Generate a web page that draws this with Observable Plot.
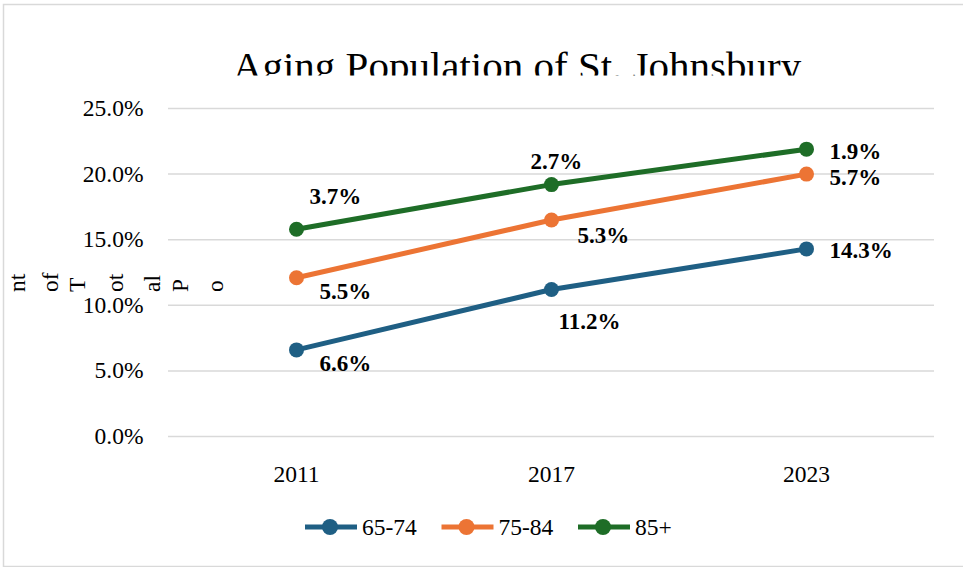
<!DOCTYPE html>
<html>
<head>
<meta charset="utf-8">
<script src="https://cdn.jsdelivr.net/npm/d3@7"></script>
<script src="https://cdn.jsdelivr.net/npm/@observablehq/plot@0.6"></script>
<style>
  html, body { margin: 0; padding: 0; background: #fff; }
  #chart svg { display: block; }
</style>
</head>
<body>
<div id="chart"></div>
<script>
// ---- Data ----
const years = ["2011", "2017", "2023"];
const seriesNames = ["65-74", "75-84", "85+"];
const values6574 = [6.6, 11.2, 14.3];
const values7584 = [5.5, 5.3, 5.7];
const values85 = [3.7, 2.7, 1.9];
const yTicks = [0, 5, 10, 15, 20, 25];
const title = "Aging Population of St. Johnsbury";
const yTitleFragments = ["nt", "of", "T", "ot", "al", "P", "o"];

const colors = ["#1f5f84", "#ec7434", "#1e6d27"];
const FONT = "'Liberation Serif', 'Times New Roman', serif";

// stacked table
const seriesValues = [values6574, values7584, values85];
const rows = [];
years.forEach((yr, i) => {
  let cum = 0;
  seriesNames.forEach((s, k) => {
    cum += seriesValues[k][i];
    rows.push({year: yr, series: s, value: seriesValues[k][i], top: +cum.toFixed(2)});
  });
});

// label placement (style: pixel offsets from the marker, anchor start)
const labelOffsets = {
  "65-74|2011": [23, 14], "65-74|2017": [7, 32], "65-74|2023": [23, 2],
  "75-84|2011": [23, 14], "75-84|2017": [26, 16], "75-84|2023": [23, 4],
  "85+|2011": [13, -33], "85+|2017": [-21, -23], "85+|2023": [23, 2]
};

const labelMarks = rows.map(d => {
  const [dx, dy] = labelOffsets[d.series + "|" + d.year];
  return Plot.text([d], {
    x: "year", y: "top", text: r => r.value.toFixed(1) + "%",
    dx, dy, textAnchor: "start", fontWeight: "bold", fontSize: 23,
    fill: "#000"
  });
});

const chart = Plot.plot({
  width: 963,
  height: 567,
  marginLeft: 168,
  marginRight: 29,
  marginTop: 108,
  marginBottom: 131,
  style: {fontFamily: FONT, fontSize: "23.5px", color: "#000", background: "#fff"},
  x: {type: "point", domain: years, padding: 0.5},
  y: {domain: [0, 25]},
  color: {domain: seriesNames, range: colors},
  marks: [
    Plot.ruleY(yTicks, {stroke: "#d9d9d9", strokeWidth: 1.5}),
    Plot.axisY({ticks: yTicks, tickSize: 0, tickPadding: 25, tickFormat: d => d.toFixed(1) + "%", label: null, fontSize: 23.5}),
    Plot.axisX({tickSize: 0, tickPadding: 29, label: null, fontSize: 23.5}),
    Plot.line(rows, {x: "year", y: "top", z: "series", stroke: "series", strokeWidth: 5}),
    Plot.dot(rows, {x: "year", y: "top", fill: "series", r: 7.5}),
    ...labelMarks
  ]
});

document.getElementById("chart").appendChild(chart);

const svg = d3.select(chart);

// outer border
svg.insert("rect", ":first-child")
  .attr("x", 3.5).attr("y", 4.5).attr("width", 980).attr("height", 562)
  .attr("fill", "none").attr("stroke", "#d9d9d9").attr("stroke-width", 1.5);

// clipped title
svg.append("defs").append("clipPath").attr("id", "titleClip")
  .append("rect").attr("x", 0).attr("y", 0).attr("width", 963).attr("height", 75.5);
svg.append("text")
  .attr("clip-path", "url(#titleClip)")
  .attr("x", 517).attr("y", 80)
  .attr("text-anchor", "middle")
  .attr("font-family", FONT).attr("font-size", 41).attr("fill", "#000")
  .text(title);

// broken y-axis title fragments (rotated)
const fragX = [25, 58, 85, 123, 160, 188, 223];
yTitleFragments.forEach((t, i) => {
  svg.append("text")
    .attr("transform", `translate(${fragX[i]},292) rotate(-90)`)
    .attr("text-anchor", "start")
    .attr("font-family", FONT).attr("font-size", 23.5).attr("fill", "#000")
    .text(t);
});

// legend
const legendX = [305, 441.5, 578];
seriesNames.forEach((s, i) => {
  const g = svg.append("g").attr("transform", `translate(${legendX[i]},527)`);
  g.append("line").attr("x1", 0).attr("x2", 52).attr("y1", 0).attr("y2", 0)
    .attr("stroke", colors[i]).attr("stroke-width", 5);
  g.append("circle").attr("cx", 25).attr("cy", 0).attr("r", 8).attr("fill", colors[i]);
  g.append("text").attr("x", 57).attr("y", 8)
    .attr("text-anchor", "start")
    .attr("font-family", FONT).attr("font-size", 23.5).attr("fill", "#000")
    .text(s);
});
</script>
</body>
</html>
